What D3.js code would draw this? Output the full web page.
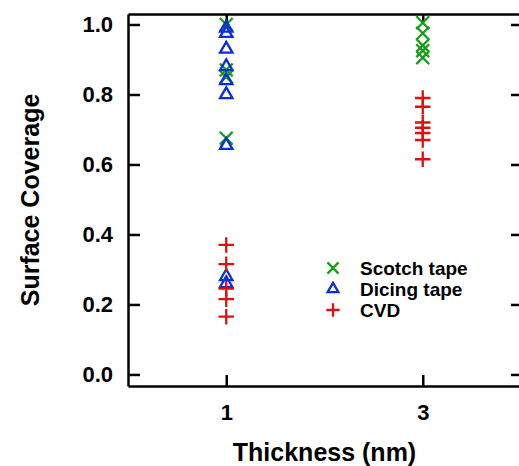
<html>
    <head>
        <title>Surface coverage vs thickness</title>
        <script src="https://d3js.org/d3.v7.min.js"></script>
        <style>
            body { margin: 0; background: white; }
            text { font-family: "Liberation Sans", Arial, sans-serif; font-weight: bold; }
        </style>
    </head>
    <body>
        <div id="chart"></div>
    </body>
    <script>
        // data
        var scotchX = [1, 1, 1, 1, 3, 3, 3, 3, 3];
        var scotchY = [1.0, 0.87, 0.85, 0.675, 1.005, 0.975, 0.94, 0.925, 0.905];
        var dicingX = [1, 1, 1, 1, 1, 1, 1, 1, 1];
        var dicingY = [0.99, 0.975, 0.93, 0.88, 0.84, 0.80, 0.655, 0.28, 0.26];
        var cvdX = [1, 1, 1, 1, 1, 3, 3, 3, 3, 3, 3, 3];
        var cvdY = [0.37, 0.315, 0.245, 0.215, 0.165, 0.79, 0.765, 0.72, 0.705, 0.69, 0.67, 0.615];
        var xTicks = [1, 3];
        var yTicks = [0, 0.2, 0.4, 0.6, 0.8, 1.0];

        var width = 519, height = 466;
        var margin = {top: 14, right: -2, bottom: 80, left: 128};

        var svg = d3.select("#chart").append("svg")
            .attr("width", width)
            .attr("height", height);

        var x = d3.scaleLinear().domain([0, 4]).range([margin.left, width - margin.right]);
        var y = d3.scaleLinear().domain([-0.033, 1.03]).range([height - margin.bottom, margin.top]);

        var series = [
            {name: "Scotch tape", xs: scotchX, ys: scotchY, color: "#14a014", symbol: d3.symbolTimes, size: 110},
            {name: "Dicing tape", xs: dicingX, ys: dicingY, color: "#0a2fd6", symbol: d3.symbolTriangle2, size: 110},
            {name: "CVD", xs: cvdX, ys: cvdY, color: "#dd0f0f", symbol: d3.symbolPlus, size: 80}
        ];

        // axes: ticks point inward on all four sides
        var fmt = d3.format(".1f");
        svg.append("g")
            .attr("transform", "translate(" + x.range()[0] + ",0)")
            .call(d3.axisLeft(y).tickValues(yTicks).tickFormat(fmt).tickSizeInner(-12).tickSizeOuter(0).tickPadding(15))
            .call(styleAxis);
        svg.append("g")
            .attr("transform", "translate(" + x.range()[1] + ",0)")
            .call(d3.axisRight(y).tickValues(yTicks).tickFormat("").tickSizeInner(-10).tickSizeOuter(0))
            .call(styleAxis);
        svg.append("g")
            .attr("transform", "translate(0," + y.range()[0] + ")")
            .call(d3.axisBottom(x).tickValues(xTicks).tickFormat(d3.format("d")).tickSizeInner(-11).tickSizeOuter(0).tickPadding(18))
            .call(styleAxis);
        svg.append("g")
            .attr("transform", "translate(0," + y.range()[1] + ")")
            .call(d3.axisTop(x).tickValues(xTicks).tickFormat("").tickSizeInner(-8).tickSizeOuter(0))
            .call(styleAxis);

        function styleAxis(g) {
            g.select(".domain").attr("stroke", "black").attr("stroke-width", 2.5);
            g.selectAll(".tick line").attr("stroke", "black").attr("stroke-width", 2.5);
            g.selectAll(".tick text").attr("fill", "black").attr("font-size", "22px")
                .attr("font-family", "Liberation Sans, Arial, sans-serif").attr("font-weight", "bold");
        }

        // markers
        series.forEach(function(s) {
            var pts = s.xs.map(function(d, i) { return [d, s.ys[i]]; });
            svg.append("g").selectAll("path")
                .data(pts)
                .enter()
                .append("path")
                  .attr("transform", function(d) { return "translate(" + x(d[0]) + "," + y(d[1]) + ")"; })
                  .attr("d", d3.symbol().type(s.symbol).size(s.size))
                  .attr("fill", "none")
                  .attr("stroke", s.color)
                  .attr("stroke-width", 2.3);
        });

        // legend
        var legend = svg.append("g").attr("transform", "translate(333,268)");
        series.forEach(function(s, i) {
            var row = legend.append("g").attr("transform", "translate(0," + (i * 21) + ")");
            row.append("path")
                .attr("d", d3.symbol().type(s.symbol).size(s.size * 0.75))
                .attr("fill", "none")
                .attr("stroke", s.color)
                .attr("stroke-width", 2.3);
            row.append("text")
                .attr("x", 27)
                .attr("y", 7)
                .attr("font-size", "19px")
                .attr("fill", "black")
                .text(s.name);
        });

        // axis titles
        svg.append("text")
            .attr("x", (x.range()[0] + x.range()[1]) / 2)
            .attr("y", 461)
            .attr("text-anchor", "middle")
            .attr("font-size", "25px")
            .text("Thickness (nm)");
        svg.append("text")
            .attr("transform", "translate(39," + ((y.range()[0] + y.range()[1]) / 2) + ") rotate(-90)")
            .attr("text-anchor", "middle")
            .attr("font-size", "25px")
            .text("Surface Coverage");
    </script>
</html>
